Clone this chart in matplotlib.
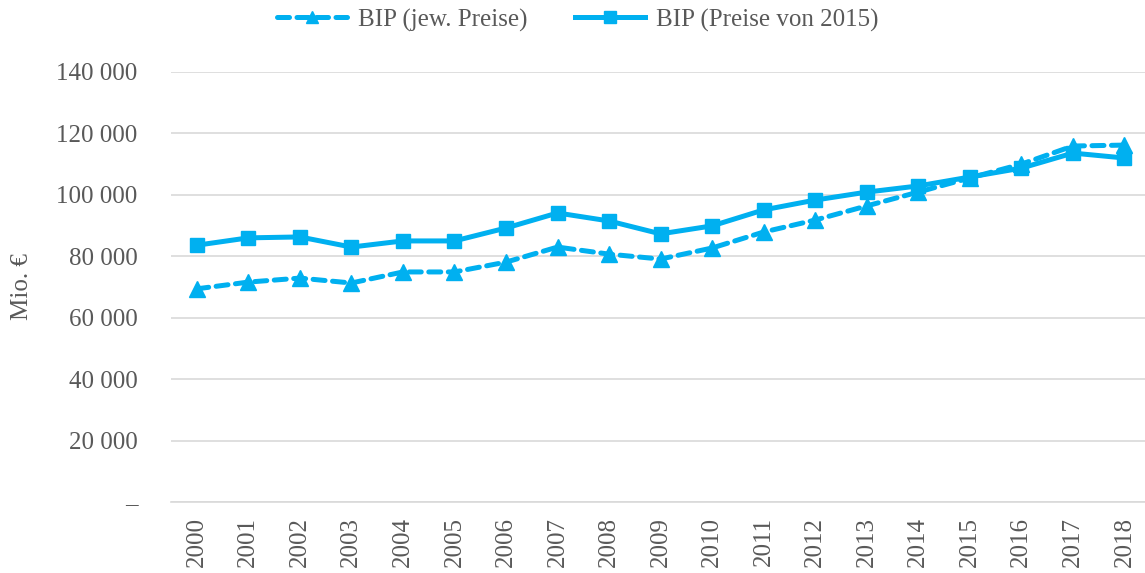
import matplotlib
matplotlib.use("Agg")
import matplotlib.pyplot as plt

years = [str(y) for y in range(2000, 2019)]
bip_jew = [69400, 71600, 72900, 71300, 74900, 74900, 78100, 83000, 80700, 79100,
           82700, 87900, 91800, 96400, 100900, 105500, 110000, 115900, 116200]
bip_2015 = [83600, 86000, 86300, 83000, 85000, 85000, 89200, 94100, 91500, 87300,
            89900, 95100, 98300, 100900, 102900, 105800, 108700, 113600, 112000]
yticks = [0, 20000, 40000, 60000, 80000, 100000, 120000, 140000]
ytick_labels = ["–", "20 000", "40 000", "60 000", "80 000", "100 000", "120 000", "140 000"]

plt.rcParams['font.family'] = ['Liberation Serif', 'DejaVu Serif']
color = "#00B0F0"
textc = "#595959"
fs = 18

fig = plt.figure(figsize=(11.45, 5.73), dpi=100)
ax = fig.add_axes([171/1145, 1-502/573, 1-171/1145, (502-72)/573])

x = list(range(len(years)))
ax.plot(x, bip_jew, color=color, lw=3.6, ls=(0, (2.4, 1.5)), marker="^", ms=11,
        label="BIP (jew. Preise)", dash_capstyle="round")
ax.plot(x, bip_2015, color=color, lw=3.6, marker="s", ms=10.5,
        label="BIP (Preise von 2015)")

ax.set_xlim(-0.5, 18.4)
ax.set_ylim(0, 140000)
ax.set_yticks(yticks)
ax.set_yticklabels(ytick_labels)
ax.set_xticks(x)
ax.set_xticklabels(years, rotation=90)
ax.tick_params(axis="both", length=0, labelsize=fs, colors=textc)
ax.tick_params(axis="y", pad=24)
ax.tick_params(axis="x", pad=11)
ax.yaxis.grid(True, color="#d9d9d9", lw=1.2)
ax.set_axisbelow(True)
for s in ["top", "right", "left"]:
    ax.spines[s].set_visible(False)
ax.spines["bottom"].set_color("#d9d9d9")
ax.spines["bottom"].set_linewidth(1.2)

fig.text(22/1145, 1-287/573, "Mio. €", rotation=90, ha="center", va="center",
         fontsize=fs, color=textc)

leg = fig.legend(loc="center", bbox_to_anchor=(578/1145, 1-20/573), ncol=2,
                 frameon=False, fontsize=fs, handlelength=2.8, columnspacing=1.9,
                 handletextpad=0.45, markerscale=0.85)
for t in leg.get_texts():
    t.set_color(textc)

fig.savefig("out.png", dpi=100)
